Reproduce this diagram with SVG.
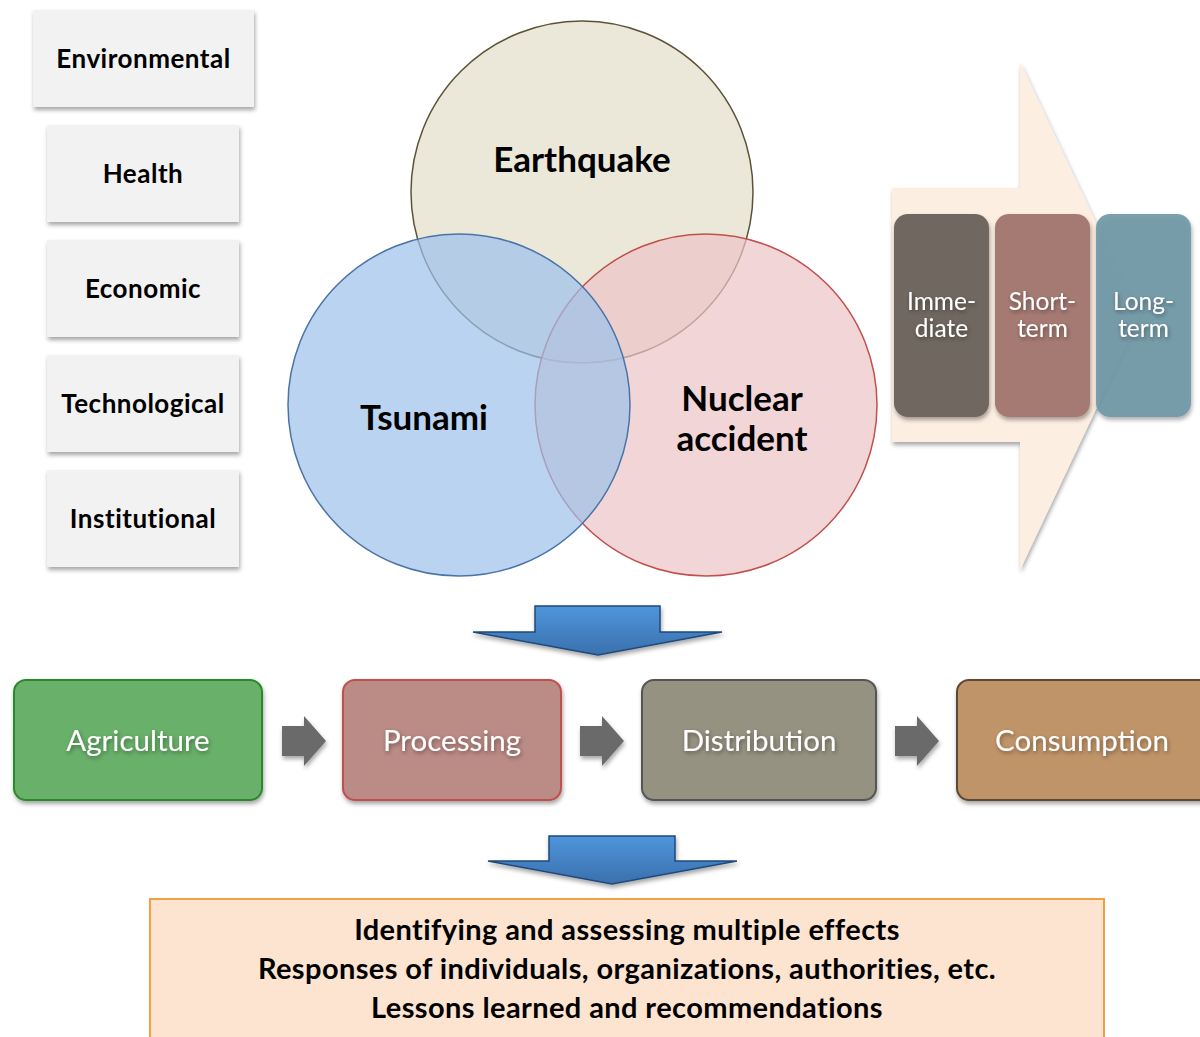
<svg xmlns="http://www.w3.org/2000/svg" width="1200" height="1037" viewBox="0 0 1200 1037">
<style>
.cat rect{fill:#f2f2f2;filter:url(#sh)}
.cat text{font-family:Lato,"Open Sans",sans-serif;font-weight:bold;font-size:26px;letter-spacing:0.5px;fill:#000;text-anchor:middle}
.big{font-family:Lato,"Open Sans",sans-serif;font-weight:bold;font-size:35px;fill:#000;text-anchor:middle}
.flow text{font-family:Lato,"Open Sans",sans-serif;font-size:29.5px;fill:#fff;text-anchor:middle;filter:url(#tsh)}
.time text{font-family:Lato,"Open Sans",sans-serif;font-size:24.5px;fill:#fff;text-anchor:middle;filter:url(#tsh)}
.res{font-family:Lato,"Open Sans",sans-serif;font-weight:bold;font-size:29px;letter-spacing:0.4px;fill:#000;text-anchor:middle}
</style>
<defs>
<filter id="sh" x="-10%" y="-10%" width="130%" height="130%"><feDropShadow dx="1" dy="3" stdDeviation="2" flood-color="#000" flood-opacity="0.35"/></filter>
<filter id="tsh" x="-10%" y="-20%" width="130%" height="150%"><feDropShadow dx="1" dy="2" stdDeviation="2" flood-color="#000" flood-opacity="0.4"/></filter>
<linearGradient id="blue" x1="0" y1="0" x2="0" y2="1"><stop offset="0" stop-color="#4f95dc"/><stop offset="1" stop-color="#3a70ad"/></linearGradient>
</defs>
<rect width="1200" height="1037" fill="#fff"/>

<g class="cat">
<g id="environmental"><rect x="33" y="10" width="221" height="97"/><text x="143.5" y="68">Environmental</text></g>
<g id="health"><rect x="47" y="125" width="192" height="97"/><text x="143" y="183">Health</text></g>
<g id="economic"><rect x="47" y="240" width="192" height="97"/><text x="143" y="298">Economic</text></g>
<g id="technological"><rect x="47" y="355" width="192" height="97"/><text x="143" y="413">Technological</text></g>
<g id="institutional"><rect x="47" y="470" width="192" height="97"/><text x="143" y="528">Institutional</text></g>
</g>

<g id="earthquake"><circle cx="582" cy="192" r="171" fill="#e6e2d0" fill-opacity="0.8" stroke="#5c5238" stroke-width="1.5"/></g>
<g id="nuclear"><circle cx="706" cy="405" r="171" fill="#ecc4c6" fill-opacity="0.7" stroke="#c0504d" stroke-width="1.5"/></g>
<g id="tsunami"><circle cx="459" cy="405" r="171" fill="#9cc0ea" fill-opacity="0.7" stroke="#4a73a8" stroke-width="1.5"/></g>
<text class="big" x="582" y="172">Earthquake</text>
<text class="big" x="424" y="430">Tsunami</text>
<text class="big" x="742" y="411">Nuclear</text>
<text class="big" x="742" y="451">accident</text>

<g id="timeline">
<path d="M892,188 L1020,188 L1020,62 L1140,316 L1020,570 L1020,442 L892,442 Z" fill="#fdeee2" filter="url(#sh)"/>
<g class="time">
<g id="immediate"><rect x="894" y="214" width="95" height="203" rx="14" fill="#706760" filter="url(#sh)"/><text x="941.5" y="310">Imme-</text><text x="941.5" y="337">diate</text></g>
<g id="shortterm"><rect x="995" y="214" width="95" height="203" rx="14" fill="#a57a72" filter="url(#sh)"/><text x="1042.5" y="310">Short-</text><text x="1042.5" y="337">term</text></g>
<g id="longterm"><rect x="1096" y="214" width="95" height="203" rx="14" fill="#6f98a6" fill-opacity="0.9" filter="url(#sh)"/><text x="1143.5" y="310">Long-</text><text x="1143.5" y="337">term</text></g>
</g>
</g>

<g id="connectors">
<path d="M535,606 L660,606 L660,632 L722,632 L598,655 L473,632 L535,632 Z" fill="url(#blue)" stroke="#1f4a7a" stroke-width="1.5" filter="url(#sh)"/>
<path d="M549,836 L675,836 L675,861 L737,861 L612,884 L488,861 L549,861 Z" fill="url(#blue)" stroke="#1f4a7a" stroke-width="1.5" filter="url(#sh)"/>
<g fill="#6b6b6b" filter="url(#sh)">
<path d="M282,726 L304,726 L304,716 L326,741 L304,766 L304,756 L282,756 Z"/>
<path d="M580,726 L602,726 L602,716 L624,741 L602,766 L602,756 L580,756 Z"/>
<path d="M895,726 L917,726 L917,716 L939,741 L917,766 L917,756 L895,756 Z"/>
</g>
</g>

<g class="flow">
<g id="agriculture"><rect x="14" y="680" width="248" height="120" rx="12" fill="#69b06a" stroke="#2a8a2a" stroke-width="2" filter="url(#sh)"/><text x="138" y="751">Agriculture</text></g>
<g id="processing"><rect x="343" y="680" width="218" height="120" rx="12" fill="#bb8b86" stroke="#c0504d" stroke-width="2" filter="url(#sh)"/><text x="452" y="751">Processing</text></g>
<g id="distribution"><rect x="642" y="680" width="234" height="120" rx="12" fill="#969282" stroke="#555" stroke-width="2" filter="url(#sh)"/><text x="759" y="751">Distribution</text></g>
<g id="consumption"><rect x="957" y="680" width="260" height="120" rx="12" fill="#c09469" stroke="#5c4a30" stroke-width="2" filter="url(#sh)"/><text x="1082" y="751">Consumption</text></g>
</g>

<g id="results">
<rect x="150" y="899" width="954" height="150" fill="#fce4d0" stroke="#f0a040" stroke-width="2"/>
<text class="res" x="627" y="940">Identifying and assessing multiple effects</text>
<text class="res" x="627" y="979">Responses of individuals, organizations, authorities, etc.</text>
<text class="res" x="627" y="1018">Lessons learned and recommendations</text>
</g>
</svg>
